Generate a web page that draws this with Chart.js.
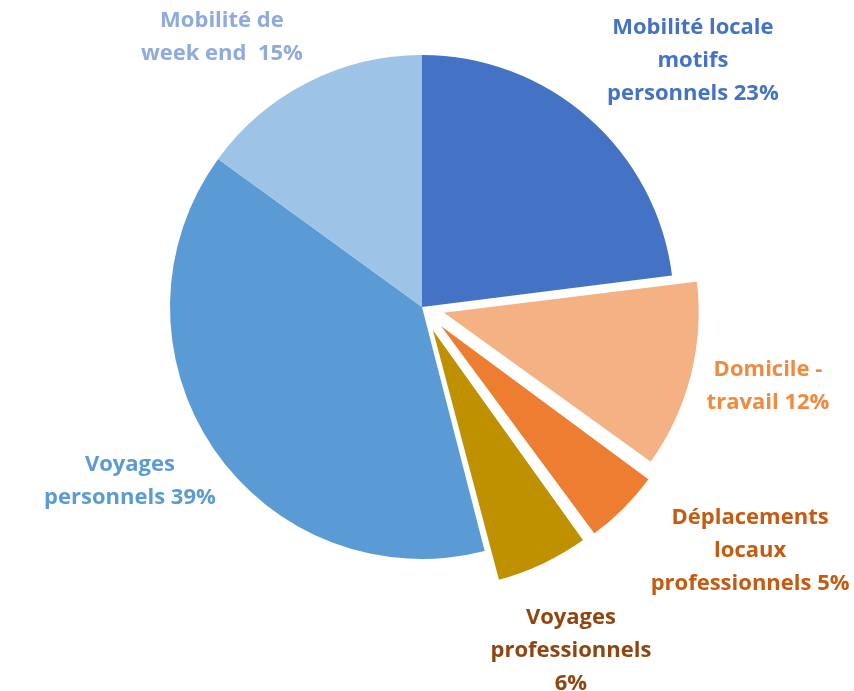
<!DOCTYPE html>
<html>
<head>
<meta charset="utf-8">
<script src="https://cdn.jsdelivr.net/npm/chart.js@4.4.0/dist/chart.umd.min.js"></script>
<style>
 html,body{margin:0;padding:0;background:#fff;}
</style>
</head>
<body>
<canvas id="chart" width="854" height="691"></canvas>
<script>
// parts of trips, in %
const categories = ["Mobilité locale motifs personnels","Domicile - travail","Déplacements locaux professionnels","Voyages professionnels","Voyages personnels","Mobilité de week end"];
const shares = [23,12,5,6,39,15];
const labelLines = [
 ["Mobilité locale","motifs","personnels 23%"],
 ["Domicile -","travail 12%"],
 ["Déplacements","locaux","professionnels 5%"],
 ["Voyages","professionnels","6%"],
 ["Voyages","personnels 39%"],
 ["Mobilité de","week end  15%"]
];
// chart.js v4 moves a slice by offset/4
const exploded = [0,80,80,80,0,0];

const sliceColors = ["#4472C4","#F4B183","#ED7D31","#BF9000","#5B9BD5","#9DC3E6"];
const textColors = ["#4472C4","#EF8A3E","#C55A11","#8E4510","#5B9BD5","#8FAADC"];
// label centre, in units of the pie radius, from the pie centre
const labelAnchor = [[1.075,-0.976],[1.373,0.313],[1.302,0.968],[0.591,1.365],[-1.159,0.690],[-0.794,-1.071]];

const labelPlugin={
 id:'sliceLabels',
 afterDatasetsDraw(chart){
  const ctx=chart.ctx;
  const arcs=chart.getDatasetMeta(0).data;
  ctx.save();
  ctx.font="bold 22px 'Open Sans', Lato, sans-serif";
  ctx.textAlign="center";ctx.textBaseline="middle";
  arcs.forEach((a,i)=>{
   const r=a.outerRadius;
   const cx=a.x+labelAnchor[i][0]*r, cy=a.y+labelAnchor[i][1]*r;
   const lines=labelLines[i], lh=33;
   ctx.fillStyle=textColors[i];
   lines.forEach((t,k)=>ctx.fillText(t,cx,cy+(k-(lines.length-1)/2)*lh));
  });
  ctx.restore();
 }
};

new Chart(document.getElementById('chart'),{
 type:'pie',
 data:{labels:categories,
  datasets:[{data:shares,backgroundColor:sliceColors,
   borderWidth:[0,2,2,2,0,0],borderColor:"#fff",offset:exploded}]},
 options:{
  responsive:false,animation:false,
  layout:{padding:{left:0,right:10,top:14,bottom:91}},
  plugins:{legend:{display:false},tooltip:{enabled:false}}
 },
 plugins:[labelPlugin]
});
</script>
</body>
</html>
